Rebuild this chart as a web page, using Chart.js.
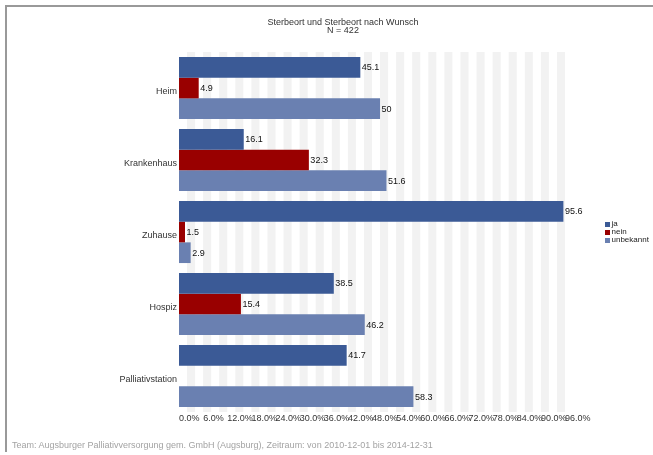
<!DOCTYPE html>
<html>
<head>
<meta charset="utf-8">
<script src="https://cdn.jsdelivr.net/npm/chart.js@4.4.1/dist/chart.umd.min.js"></script>
<style>
  html, body { margin: 0; padding: 0; background: #fff; }
  body { width: 653px; height: 455px; position: relative; overflow: hidden; font-family: "Liberation Sans", Arial, sans-serif; }
  #frame { position: absolute; left: 5px; top: 5px; width: 660px; height: 447px; border-top: 2px solid #999; border-left: 2px solid #999; box-sizing: border-box; pointer-events: none; }
  #title { position: absolute; left: 243px; width: 200px; top: 17.5px; text-align: center; font-size: 9px; line-height: 8px; color: #333; }
  #footer { position: absolute; left: 12px; top: 440.5px; font-size: 9px; line-height: 9px; color: #a3a3a3; white-space: nowrap; }
  #legend { position: absolute; left: 605px; top: 220px; font-size: 8px; line-height: 8px; color: #222; }
  #legend .row { height: 8px; display: flex; align-items: center; white-space: nowrap; }
  #legend .box { width: 5px; height: 5px; margin-right: 1.5px; }
  canvas { position: absolute; left: 0; top: 0; }
</style>
</head>
<body>
<canvas id="c" width="653" height="455"></canvas>
<div id="frame"></div>
<div id="title">Sterbeort und Sterbeort nach Wunsch<br>N = 422</div>
<div id="legend"></div>
<div id="footer">Team: Augsburger Palliativversorgung gem. GmbH (Augsburg), Zeitraum: von 2010-12-01 bis 2014-12-31</div>
<script>
const categories = ["Heim", "Krankenhaus", "Zuhause", "Hospiz", "Palliativstation"];
const seriesNames = ["ja", "nein", "unbekannt"];
const jaValues = [45.1, 16.1, 95.6, 38.5, 41.7];
const neinValues = [4.9, 32.3, 1.5, 15.4, null];
const unbekanntValues = [50, 51.6, 2.9, 46.2, 58.3];
const seriesColors = ["#3b5a96", "#990000", "#6a80b1"];
const xMin = 0, xMax = 96, xTickStep = 6, stripeStep = 2;

const seriesValues = [jaValues, neinValues, unbekanntValues];

// HTML legend built from series names/colours
const legendEl = document.getElementById('legend');
seriesNames.forEach((name, i) => {
  const row = document.createElement('div');
  row.className = 'row';
  const box = document.createElement('span');
  box.className = 'box';
  box.style.background = seriesColors[i];
  const txt = document.createElement('span');
  txt.textContent = name;
  row.appendChild(box); row.appendChild(txt);
  legendEl.appendChild(row);
});

const stripePlugin = {
  id: 'stripes',
  beforeDatasetsDraw(chart) {
    const {ctx, chartArea, scales: {x}} = chart;
    ctx.save();
    ctx.fillStyle = '#f2f2f2';
    let k = 0;
    for (let v = xMin; v < xMax; v += stripeStep, k++) {
      if (k % 2 === 1) {
        const a = x.getPixelForValue(v), b = x.getPixelForValue(v + stripeStep);
        ctx.fillRect(a, chartArea.top, b - a, chartArea.bottom - chartArea.top);
      }
    }
    ctx.restore();
  }
};

const valueLabelPlugin = {
  id: 'valueLabels',
  afterDatasetsDraw(chart) {
    const ctx = chart.ctx;
    ctx.save();
    ctx.font = '9px "Liberation Sans", Arial, sans-serif';
    ctx.fillStyle = '#111';
    ctx.textAlign = 'left';
    ctx.textBaseline = 'middle';
    chart.data.datasets.forEach((ds, di) => {
      const meta = chart.getDatasetMeta(di);
      meta.data.forEach((el, i) => {
        const v = ds.data[i];
        if (v === null || v === undefined) return;
        ctx.fillText(String(v), el.x + 1.5, el.y + 0.5);
      });
    });
    ctx.restore();
  }
};

new Chart(document.getElementById('c'), {
  type: 'bar',
  data: {
    labels: categories,
    datasets: seriesNames.map((name, i) => ({
      label: name,
      data: seriesValues[i],
      backgroundColor: seriesColors[i],
      borderWidth: 0,
      categoryPercentage: 0.8625,
      barPercentage: 1.0
    }))
  },
  options: {
    indexAxis: 'y',
    responsive: false,
    animation: false,
    devicePixelRatio: 1,
    layout: { padding: { left: 0, right: 88, top: 52, bottom: 0 } },
    plugins: {
      legend: { display: false },
      title: { display: false },
      tooltip: { enabled: false }
    },
    scales: {
      x: {
        type: 'linear',
        min: xMin,
        max: xMax,
        grid: { display: false, drawTicks: false },
        border: { display: false },
        ticks: {
          stepSize: xTickStep,
          autoSkip: false,
          maxRotation: 0,
          minRotation: 0,
          align: 'start',
          padding: 1,
          color: '#333',
          font: { family: '"Liberation Sans", Arial, sans-serif', size: 9 },
          callback: v => Number(v).toFixed(1) + '%'
        },
        afterFit(scale) { scale.height = 43; }
      },
      y: {
        grid: { display: false, drawTicks: false },
        border: { display: false },
        ticks: {
          padding: 2,
          labelOffset: 4,
          color: '#333',
          font: { family: '"Liberation Sans", Arial, sans-serif', size: 9 }
        },
        afterFit(scale) { scale.width = 179; }
      }
    }
  },
  plugins: [stripePlugin, valueLabelPlugin]
});
</script>
</body>
</html>
